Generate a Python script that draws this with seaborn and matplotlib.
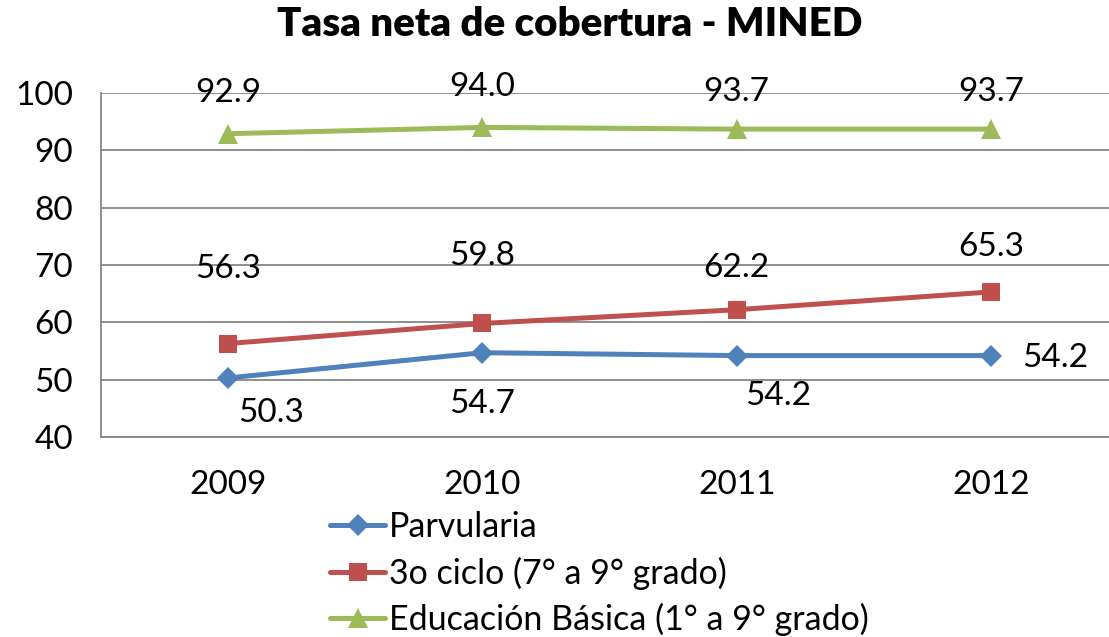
import pandas as pd
import seaborn as sns
import matplotlib.pyplot as plt
plt.switch_backend('agg')

years = ['2009', '2010', '2011', '2012']
parvularia = [50.3, 54.7, 54.2, 54.2]
tercer_ciclo = [56.3, 59.8, 62.2, 65.3]
basica = [92.9, 94.0, 93.7, 93.7]
series_names = ['Parvularia', '3o ciclo (7° a 9° grado)', 'Educación Básica (1° a 9° grado)']
colors = ['#4F81BD', '#C0504D', '#9BBB59']
markers = ['D', 's', '^']
msizes = [11, 13, 14]

# label offsets in pixels (dx, dy), as placed in the original
offsets = [
    [(43, -35), (0, -51), (42, -40), (64, -2)],
    [(0, 75), (0, 67), (0, 42), (0, 45)],
    [(0, 41), (0, 40), (0, 37), (0, 37)],
]

sns.set_style('white')
plt.rcParams['font.family'] = ['Lato', 'DejaVu Sans']
plt.rcParams['text.color'] = 'black'
plt.rcParams['xtick.color'] = 'black'
plt.rcParams['ytick.color'] = 'black'

rows = []
for name, vals in zip(series_names, [parvularia, tercer_ciclo, basica]):
    for y, v in zip(years, vals):
        rows.append({'Year': y, 'Value': v, 'Serie': name})
df = pd.DataFrame(rows)

fig = plt.figure(figsize=(11.09, 6.37), dpi=100)
ax = fig.add_axes([0.0911, 0.314, 0.917, 0.540])

sns.lineplot(data=df, x='Year', y='Value', hue='Serie', style='Serie',
             hue_order=series_names, style_order=series_names,
             palette=colors, markers=markers, dashes=False,
             linewidth=3.6, markersize=13, markeredgewidth=0, ax=ax, legend=False)
for line, ms in zip(ax.lines, msizes):
    line.set_markersize(ms)

for vals, offs in zip([parvularia, tercer_ciclo, basica], offsets):
    for i, (v, o) in enumerate(zip(vals, offs)):
        ax.annotate('%.1f' % v, (i, v), xytext=o, textcoords='offset pixels',
                    ha='center', va='center', fontsize=24, color='black')

ax.set_xlim(-0.5, 3.5)
ax.set_ylim(40, 100)
ax.set_yticks(range(40, 101, 10))
ax.grid(axis='y', color='#868686', linewidth=1.3)
ax.grid(axis='x', visible=False)
for s in ['top', 'right']:
    ax.spines[s].set_visible(False)
for s in ['left', 'bottom']:
    ax.spines[s].set_color('#868686')
    ax.spines[s].set_linewidth(1.3)
ax.tick_params(axis='y', length=6, color='#868686', width=1.3, labelsize=24,
               labelcolor='black', pad=14)
ax.tick_params(axis='x', length=0, labelsize=24, labelcolor='black', pad=24)
ax.set_xlabel('')
ax.set_ylabel('')

fig.suptitle('Tasa neta de cobertura - MINED', x=0.514, y=0.99, fontsize=29,
             fontweight='heavy')

handles = [plt.Line2D([], [], color=c, marker=m, linewidth=3.6, markersize=ms,
                      markeredgewidth=0) for c, m, ms in zip(colors, markers, msizes)]
fig.legend(handles, series_names, loc='upper left', bbox_to_anchor=(0.298, 0.198),
           frameon=False, fontsize=24.5, handlelength=1.6, handletextpad=0.12,
           labelspacing=0.40, borderpad=0, borderaxespad=0)

fig.savefig('out.png', dpi=100)
